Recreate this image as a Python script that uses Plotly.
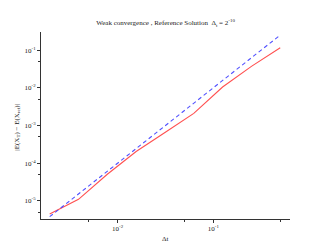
import plotly.graph_objects as go

dt = [2**-9, 2**-8, 2**-7, 2**-6, 2**-5, 2**-4, 2**-3, 2**-2, 2**-1]
weak_error = [4.5e-6, 1.1e-5, 5.1e-5, 2.05e-4, 6.5e-4, 2.1e-3, 1.05e-2, 3.7e-2, 0.116]
reference = [d**2 for d in dt]

x_major = [1e-2, 1e-1]
x_major_text = ["10<sup>-2</sup>", "10<sup>-1</sup>"]
x_minor = [5e-3, 5e-2, 5e-1]
y_major = [1e-5, 1e-4, 1e-3, 1e-2, 1e-1]
y_major_text = ["10<sup>-5</sup>", "10<sup>-4</sup>", "10<sup>-3</sup>", "10<sup>-2</sup>", "10<sup>-1</sup>"]
y_minor = [5e-6, 5e-5, 5e-4, 5e-3, 5e-2]

font = "Liberation Serif, DejaVu Serif, serif"
tfont = dict(family=font, size=7, color="#222")

fig = go.Figure()
fig.add_trace(go.Scatter(x=dt, y=weak_error, mode="lines",
                         line=dict(color="#ff5050", width=1.1), showlegend=False))
fig.add_trace(go.Scatter(x=dt, y=reference, mode="lines",
                         line=dict(color="#5050ff", width=1.1, dash="4px,3px"), showlegend=False))

fig.update_layout(
    width=332, height=251,
    margin=dict(l=41, r=42, t=32, b=32),
    paper_bgcolor="white", plot_bgcolor="white",
    font=tfont,
    title=dict(text="Weak convergence , Reference Solution  Δ<sub>t</sub> = 2<sup>-10</sup>",
               x=0.4985, xanchor="center", y=0.91, yanchor="middle", font=tfont),
    annotations=[
        dict(text="Δt", xref="paper", yref="paper", x=0.502, y=-0.107,
             xanchor="center", yanchor="middle", showarrow=False, font=tfont),
        dict(text="|E(X<sub>T</sub>) − E(X<sub>ref</sub>)|", xref="paper", yref="paper",
             x=-0.0976, y=0.492, xanchor="center", yanchor="middle", textangle=-90,
             showarrow=False, font=tfont),
    ],
)
fig.update_xaxes(
    type="log", range=[-2.80, -0.199], automargin=False,
    tickmode="array", tickvals=x_major, ticktext=x_major_text,
    showgrid=False, zeroline=False,
    showline=True, linecolor="#333", linewidth=1,
    ticks="outside", ticklen=3, tickcolor="#333",
    minor=dict(tickvals=x_minor, ticks="outside", ticklen=2, tickcolor="#333", showgrid=False),
    tickfont=tfont,
)
fig.update_yaxes(
    type="log", range=[-5.48, -0.52], automargin=False,
    tickmode="array", tickvals=y_major, ticktext=y_major_text,
    showgrid=False, zeroline=False,
    showline=True, linecolor="#333", linewidth=1,
    ticks="outside", ticklen=3, tickcolor="#333",
    minor=dict(tickvals=y_minor, ticks="outside", ticklen=2, tickcolor="#333", showgrid=False),
    tickfont=tfont,
)

fig.write_html("out.html", config={"displayModeBar": False},
               post_script="document.body.style.margin='0';")
